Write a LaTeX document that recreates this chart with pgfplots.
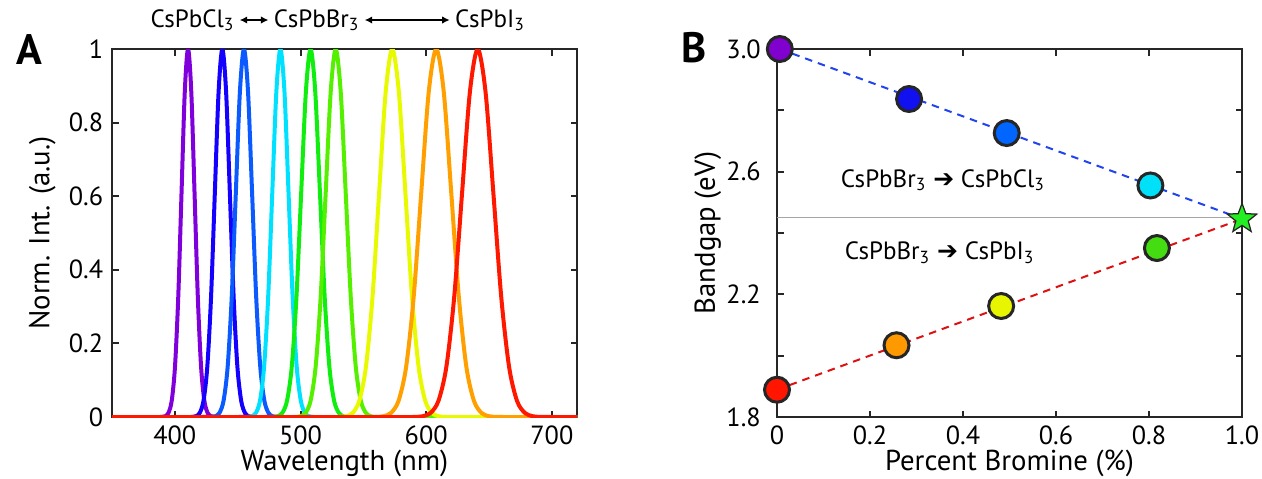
\documentclass[border=0pt]{standalone}
\usepackage{fontspec}
\setmainfont{PT Sans}
\newfontfamily\djv{DejaVu Sans}
\usepackage{pgfplots}
\pgfplotsset{compat=1.18}
\usetikzlibrary{arrows.meta,calc}

% spectra colours
\definecolor{sPur}{HTML}{8000DC}
\definecolor{sBlu}{HTML}{1400FF}
\definecolor{sBl2}{HTML}{0A5AFF}
\definecolor{sCya}{HTML}{00E0FF}
\definecolor{sGrn}{HTML}{10EE10}
\definecolor{sLim}{HTML}{55F000}
\definecolor{sYel}{HTML}{E8FA00}
\definecolor{sOra}{HTML}{FFA000}
\definecolor{sRed}{HTML}{FF1800}
% marker colours
\definecolor{mPur}{HTML}{8000D0}
\definecolor{mBlu}{HTML}{1010F0}
\definecolor{mBl2}{HTML}{0066FF}
\definecolor{mCya}{HTML}{00E0F8}
\definecolor{mLim}{HTML}{44DD11}
\definecolor{mYel}{HTML}{E8F500}
\definecolor{mOra}{HTML}{FF9900}
\definecolor{mRed}{HTML}{FF1500}
\definecolor{mStar}{HTML}{22EE22}
\definecolor{dBlu}{HTML}{2244EE}
\definecolor{dRed}{HTML}{DD1111}

% filled five-pointed star
\pgfdeclareplotmark{fstar}{%
  \pgfpathmoveto{\pgfpointpolar{90}{\pgfplotmarksize}}%
  \pgfpathlineto{\pgfpointpolar{126}{0.42\pgfplotmarksize}}%
  \pgfpathlineto{\pgfpointpolar{162}{\pgfplotmarksize}}%
  \pgfpathlineto{\pgfpointpolar{198}{0.42\pgfplotmarksize}}%
  \pgfpathlineto{\pgfpointpolar{234}{\pgfplotmarksize}}%
  \pgfpathlineto{\pgfpointpolar{270}{0.42\pgfplotmarksize}}%
  \pgfpathlineto{\pgfpointpolar{306}{\pgfplotmarksize}}%
  \pgfpathlineto{\pgfpointpolar{342}{0.42\pgfplotmarksize}}%
  \pgfpathlineto{\pgfpointpolar{18}{\pgfplotmarksize}}%
  \pgfpathlineto{\pgfpointpolar{54}{0.42\pgfplotmarksize}}%
  \pgfpathclose
  \pgfusepathqfillstroke
}

\pgfplotsset{
  panel/.style={
    scale only axis, width=186pt, height=147.2pt,
    axis line style={line width=1.1pt, black!85},
    tick style={line width=0.8pt, black!85},
    major tick length=2.6pt, tick align=inside,
    xtick pos=both, ytick pos=both,
    tick label style={font=\fontsize{10.5}{12}\selectfont},
    label style={font=\fontsize{11.5}{13}\selectfont},
    /pgf/number format/assume math mode=true,
    xlabel style={at={(axis description cs:0.5,-0.125)}, anchor=center},
    ylabel style={anchor=center},
  },
  sp/.style={line width=1.6pt, smooth, no marks},
  dot/.style={only marks, mark=*, mark size=5pt,
    mark options={draw=black!85, line width=1.2pt, fill=#1}},
}

\begin{document}
\begin{tikzpicture}
\useasboundingbox (-44.8pt,-24.4pt) rectangle (460pt,166.8pt);

\begin{axis}[panel, at={(0pt,0pt)},
  xmin=350, xmax=720, ymin=0, ymax=1,
  xtick={400,500,600,700}, ytick={0,0.2,0.4,0.6,0.8,1},
  xlabel={Wavelength (nm)}, ylabel={Norm. Int. (a.u.)},
  ylabel style={at={(axis description cs:-0.15,0.5)}},
]
\addplot[sp, sPur] coordinates {(350,0) (384.5,0) (389.7,0.0003) (392.3,0.0022) (394.9,0.0111) (397.5,0.0439) (400.1,0.1353) (402.7,0.3247) (405.3,0.6065) (407.9,0.8825) (410.5,1) (413.1,0.8825) (415.7,0.6065) (418.3,0.3247) (420.9,0.1353) (423.5,0.0439) (426.1,0.0111) (428.7,0.0022) (431.3,0.0003) (436.5,0) (720,0)};
\addplot[sp, sBlu] coordinates {(350,0) (407.8,0) (413.8,0.0003) (416.8,0.0022) (419.8,0.0111) (422.8,0.0439) (425.8,0.1353) (428.8,0.3247) (431.8,0.6065) (434.8,0.8825) (437.8,1) (440.8,0.8825) (443.8,0.6065) (446.8,0.3247) (449.8,0.1353) (452.8,0.0439) (455.8,0.0111) (458.8,0.0022) (461.8,0.0003) (467.8,0) (720,0)};
\addplot[sp, sBl2] coordinates {(350,0) (422.5,0) (429,0.0003) (432.25,0.0022) (435.5,0.0111) (438.75,0.0439) (442,0.1353) (445.25,0.3247) (448.5,0.6065) (451.75,0.8825) (455,1) (458.25,0.8825) (461.5,0.6065) (464.75,0.3247) (468,0.1353) (471.25,0.0439) (474.5,0.0111) (477.75,0.0022) (481,0.0003) (487.5,0) (720,0)};
\addplot[sp, sCya] coordinates {(350,0) (451.5,0) (458,0.0003) (461.25,0.0022) (464.5,0.0111) (467.75,0.0439) (471,0.1353) (474.25,0.3247) (477.5,0.6065) (480.75,0.8825) (484,1) (487.25,0.8825) (490.5,0.6065) (493.75,0.3247) (497,0.1353) (500.25,0.0439) (503.5,0.0111) (506.75,0.0022) (510,0.0003) (516.5,0) (720,0)};
\addplot[sp, sGrn] coordinates {(350,0) (470.5,0) (478,0.0003) (481.75,0.0022) (485.5,0.0111) (489.25,0.0439) (493,0.1353) (496.75,0.3247) (500.5,0.6065) (504.25,0.8825) (508,1) (511.75,0.8825) (515.5,0.6065) (519.25,0.3247) (523,0.1353) (526.75,0.0439) (530.5,0.0111) (534.25,0.0022) (538,0.0003) (545.5,0) (720,0)};
\addplot[sp, sLim] coordinates {(350,0) (488,0) (496,0.0003) (500,0.0022) (504,0.0111) (508,0.0439) (512,0.1353) (516,0.3247) (520,0.6065) (524,0.8825) (528,1) (532,0.8825) (536,0.6065) (540,0.3247) (544,0.1353) (548,0.0439) (552,0.0111) (556,0.0022) (560,0.0003) (568,0) (720,0)};
\addplot[sp, sYel] coordinates {(350,0) (520.5,0) (531,0.0003) (536.25,0.0022) (541.5,0.0111) (546.75,0.0439) (552,0.1353) (557.25,0.3247) (562.5,0.6065) (567.75,0.8825) (573,1) (578.25,0.8825) (583.5,0.6065) (588.75,0.3247) (594,0.1353) (599.25,0.0439) (604.5,0.0111) (609.75,0.0022) (615,0.0003) (625.5,0) (720,0)};
\addplot[sp, sOra] coordinates {(350,0) (548,0) (560,0.0003) (566,0.0022) (572,0.0111) (578,0.0439) (584,0.1353) (590,0.3247) (596,0.6065) (602,0.8825) (608,1) (614,0.8825) (620,0.6065) (626,0.3247) (632,0.1353) (638,0.0439) (644,0.0111) (650,0.0022) (656,0.0003) (668,0) (720,0)};
\addplot[sp, sRed] coordinates {(350,0) (578.5,0) (591,0.0003) (597.25,0.0022) (603.5,0.0111) (609.75,0.0439) (616,0.1353) (622.25,0.3247) (628.5,0.6065) (634.75,0.8825) (641,1) (647.25,0.8825) (653.5,0.6065) (659.75,0.3247) (666,0.1353) (672.25,0.0439) (678.5,0.0111) (684.75,0.0022) (691,0.0003) (703.5,0) (720,0)};
\end{axis}

\begin{axis}[panel, at={(266pt,0pt)}, clip=false,
  xmin=0, xmax=1, ymin=1.8, ymax=3.0,
  xtick={0,0.2,0.4,0.6,0.8,1}, xticklabels={0,0.2,0.4,0.6,0.8,1.0},
  ytick={1.8,2.0,2.2,2.4,2.6,2.8,3.0}, yticklabels={1.8,,2.2,,2.6,,3.0},
  yticklabel style={xshift=-3pt},
  xlabel={Percent Bromine (\%)}, ylabel={Bandgap (eV)},
  ylabel style={at={(axis description cs:-0.149,0.5)}},
]
\addplot[no marks, line width=0.6pt, black!35] coordinates {(0,2.45) (1,2.45)};
\addplot[no marks, line width=0.8pt, dBlu, dash pattern=on 3pt off 2.4pt] coordinates {(0.006,3.0) (1.0,2.446)};
\addplot[no marks, line width=0.8pt, dRed, dash pattern=on 3pt off 2.4pt] coordinates {(0,1.889) (1.0,2.446)};
\node[font=\fontsize{10}{12}\selectfont] at (axis cs:0.357,2.572) {CsPbBr\textsubscript{3} {\djv ➔} CsPbCl\textsubscript{3}};
\node[font=\fontsize{10}{12}\selectfont] at (axis cs:0.35,2.337) {CsPbBr\textsubscript{3} {\djv ➔} CsPbI\textsubscript{3}};
\addplot[dot=mPur] coordinates {(0.006,3.0)};
\addplot[dot=mBlu] coordinates {(0.284,2.837)};
\addplot[dot=mBl2] coordinates {(0.494,2.726)};
\addplot[dot=mCya] coordinates {(0.803,2.555)};
\addplot[dot=mLim] coordinates {(0.817,2.351)};
\addplot[dot=mYel] coordinates {(0.482,2.162)};
\addplot[dot=mOra] coordinates {(0.257,2.034)};
\addplot[dot=mRed] coordinates {(0,1.889)};
\addplot[only marks, mark=fstar, mark size=6.2pt, mark options={draw=black!85, line width=0.5pt, fill=mStar}] coordinates {(1.0,2.446)};
\end{axis}

% panel letters
\node[font=\fontsize{17}{17}\selectfont\bfseries] at (-33pt,147pt) {A};
\node[font=\fontsize{17}{17}\selectfont\bfseries] at (232.8pt,147.6pt) {B};

% composition annotation above panel A
\begin{scope}[every node/.style={inner sep=0pt, anchor=base west, font=\fontsize{10}{12}\selectfont},
  dbl/.style={{Latex[length=3pt,width=3pt]}-{Latex[length=3pt,width=3pt]}, line width=0.6pt}]
\node (c1) at (15.2pt,156pt) {CsPbCl\textsubscript{3}};
\draw[dbl] ($(c1.base east)+(1.8pt,2.8pt)$) -- ++(11.5pt,0) coordinate (a1);
\node (c2) at ($(a1)+(2pt,-2.8pt)$) {CsPbBr\textsubscript{3}};
\draw[dbl] ($(c2.base east)+(1.8pt,2.8pt)$) -- ++(34pt,0) coordinate (a2);
\node (c3) at ($(a2)+(2pt,-2.8pt)$) {CsPbI\textsubscript{3}};
\end{scope}
\end{tikzpicture}
\end{document}
